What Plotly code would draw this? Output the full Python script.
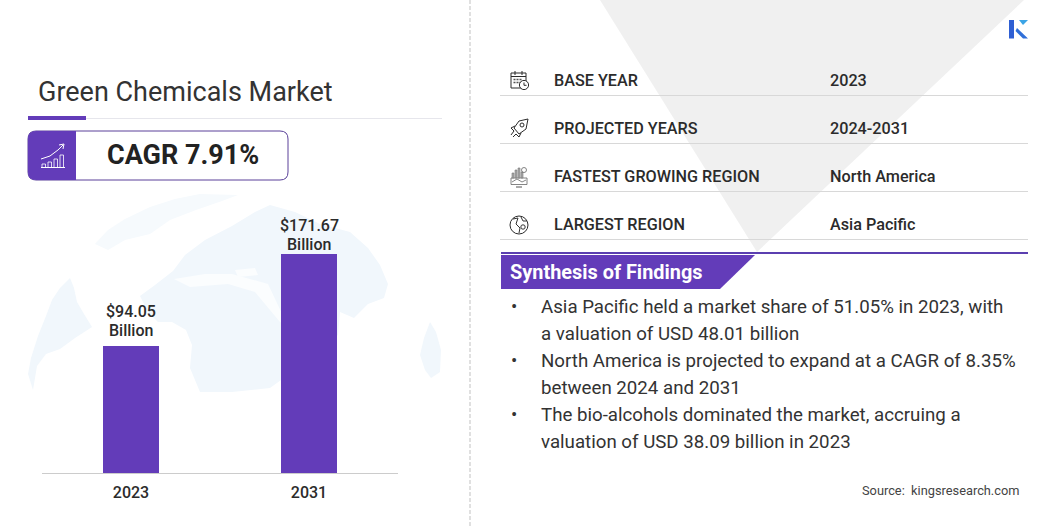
import plotly.graph_objs as go

W, H = 1056, 528
FONT = "Roboto"
PURPLE = "#633cb9"
DARK = "#2b2b2b"

# Values
years = ["2023", "2031"]
market_values = [94.05, 171.67]
table_labels = ["BASE YEAR", "PROJECTED YEARS", "FASTEST GROWING REGION", "LARGEST REGION"]
table_values = ["2023", "2024-2031", "North America", "Asia Pacific"]
findings = [
    ["Asia Pacific held a market share of 51.05% in 2023, with", "a valuation of USD 48.01 billion"],
    ["North America is projected to expand at a CAGR of 8.35%", "between 2024 and 2031"],
    ["The bio-alcohols dominated the market, accruing a", "valuation of USD 38.09 billion in 2023"],
]

# The drawn bars do not start at zero, they hang off a slightly negative floor
axis_floor = -13.1


def px(x):
    return x / W


def py(y):
    return 1 - y / H


def path(points, close=True):
    d = "M " + " L ".join(f"{px(x):.5f},{py(y):.5f}" for x, y in points)
    return d + (" Z" if close else "")


def polygon(points, color):
    return dict(type="path", xref="paper", yref="paper", path=path(points), fillcolor=color,
                line=dict(width=0), layer="below")


def polyline(points, color=DARK, width=1):
    return dict(type="path", xref="paper", yref="paper", path=path(points, close=False),
                line=dict(color=color, width=width), layer="above")


def line(x0, y0, x1, y1, color, width=1, dash=None, layer="below"):
    return dict(type="line", xref="paper", yref="paper", x0=px(x0), y0=py(y0), x1=px(x1), y1=py(y1),
                line=dict(color=color, width=width, dash=dash), layer=layer)


def circle(cx, cy, r, color=DARK, width=1):
    return dict(type="circle", xref="paper", yref="paper", x0=px(cx - r), x1=px(cx + r),
                y0=py(cy + r), y1=py(cy - r), line=dict(color=color, width=width), layer="above")


def rect(x0, y0, x1, y1, color=DARK, width=1, fill=None):
    return dict(type="rect", xref="paper", yref="paper", x0=px(x0), x1=px(x1), y0=py(y1), y1=py(y0),
                line=dict(color=color, width=width), fillcolor=fill, layer="above")


def text(x, y, s, size, color=DARK, weight=400, anchor="left"):
    fig.add_annotation(xref="paper", yref="paper", x=px(x), y=py(y), text=s, showarrow=False,
                       xanchor=anchor, yanchor="middle", borderpad=0,
                       font=dict(family=FONT, size=size, color=color, weight=weight))


fig = go.Figure()

fig.add_trace(go.Bar(
    x=years,
    y=[v - axis_floor for v in market_values],
    base=axis_floor,
    width=0.31,
    marker=dict(color=PURPLE, line=dict(width=0)),
    hovertext=[f"${v} Billion" for v in market_values],
    hoverinfo="text",
    showlegend=False,
))

shapes = []

# Pale grey funnel behind the table
shapes.append(polygon([(600, 0), (1024, 0), (757, 252)], "#f0f0f0"))

# Faint globe behind the bars
LAND = "#f1f7fc"
LAND_FAINT = "#f6fafd"
shapes.append(polygon([(70, 278), (60, 288), (52, 300), (46, 316), (38, 336), (31, 358), (28, 374), (33, 390),
                       (37, 366), (46, 354), (60, 349), (75, 338), (92, 327), (84, 314), (77, 302),
                       (74, 288)], LAND))
shapes.append(polygon([(95, 244), (108, 230), (125, 219), (150, 207), (175, 199), (200, 194), (238, 195),
                       (222, 201), (196, 210), (170, 220), (150, 234), (125, 240), (108, 250)], LAND_FAINT))
shapes.append(polygon([(140, 296), (155, 285), (173, 271), (185, 255), (205, 240), (232, 226), (255, 212),
                       (270, 205), (295, 212), (320, 224), (350, 232), (368, 248), (380, 265), (388, 284),
                       (384, 298), (368, 304), (354, 318), (340, 312), (338, 335), (318, 352), (300, 372),
                       (288, 375), (270, 388), (232, 392), (200, 392), (190, 368), (192, 345), (186, 330),
                       (172, 322), (158, 322), (148, 312)], LAND))
shapes.append(polygon([(430, 322), (424, 338), (420, 355), (425, 370), (431, 378), (440, 372), (441, 350),
                       (436, 332)], LAND))
shapes.append(polygon([(174, 279), (205, 274), (232, 274), (268, 284), (285, 320), (300, 335), (280, 322),
                       (255, 292), (228, 284), (190, 287)], "#fbfdfe"))
shapes.append(polygon([(235, 270), (255, 268), (258, 275), (238, 277)], "#fbfdfe"))

# Title rule and the CAGR badge
shapes.append(line(86, 118.5, 442, 118.5, "#e6e6ec"))
shapes.append(rect(28, 116, 86, 120, color=PURPLE, width=0, fill=PURPLE))
rad = 8
shapes.append(dict(type="path", xref="paper", yref="paper", layer="below",
                   path=(f"M {px(28 + rad)},{py(131)} L {px(288 - rad)},{py(131)} "
                         f"Q {px(288)},{py(131)} {px(288)},{py(131 + rad)} L {px(288)},{py(180 - rad)} "
                         f"Q {px(288)},{py(180)} {px(288 - rad)},{py(180)} L {px(28 + rad)},{py(180)} "
                         f"Q {px(28)},{py(180)} {px(28)},{py(180 - rad)} L {px(28)},{py(131 + rad)} "
                         f"Q {px(28)},{py(131)} {px(28 + rad)},{py(131)} Z"),
                   fillcolor="white", line=dict(color="#5a4199", width=1)))
shapes.append(dict(type="path", xref="paper", yref="paper", layer="above",
                   path=(f"M {px(28 + rad)},{py(131)} L {px(76)},{py(131)} L {px(76)},{py(180)} "
                         f"L {px(28 + rad)},{py(180)} Q {px(28)},{py(180)} {px(28)},{py(180 - rad)} "
                         f"L {px(28)},{py(131 + rad)} Q {px(28)},{py(131)} {px(28 + rad)},{py(131)} Z"),
                   fillcolor=PURPLE, line=dict(width=0)))

# Little growth chart inside the badge
for bx, top in [(42, 164), (48, 162), (54, 159), (60, 155)]:
    shapes.append(rect(bx, top, bx + 3.5, 167.5, color="white", width=0.8))
shapes.append(line(41, 167.5, 65, 167.5, "white", layer="above"))
shapes.append(polyline([(41, 159), (50, 156), (58, 150), (63, 145)], "white"))
shapes.append(polyline([(59, 145), (64, 144), (63, 149)], "white"))

# Dashed divider between the two halves
shapes.append(line(470, 0, 470, 528, "#e0e0e0", width=2, dash="4px,2px"))

# Table rules
for rule_y in [95.5, 143.5, 191.5, 239.5]:
    shapes.append(line(500, rule_y, 1028, rule_y, "#d8d8d8"))

# Calendar icon
shapes.append(rect(511, 73, 526, 88))
shapes.append(line(511, 76.5, 526, 76.5, DARK, layer="above"))
shapes.append(line(515, 71, 515, 75, DARK, layer="above"))
shapes.append(line(522, 71, 522, 75, DARK, layer="above"))
for gy in [79.5, 82.5]:
    shapes.append(line(513.5, gy, 522, gy, "#555555", width=1.5, dash="2px,1px", layer="above"))
shapes.append(dict(circle(524, 85, 4.6), fillcolor="white"))
shapes.append(polyline([(524, 82.5), (524, 85.3), (526.5, 85.3)]))

# Rocket icon
shapes.append(polyline([(528, 119), (519, 121), (514, 128), (519, 134), (526, 129), (528, 119)]))
shapes.append(circle(522, 125, 2))
shapes.append(polyline([(515, 126), (511, 128), (514, 131)]))
shapes.append(polyline([(521, 133), (519, 137), (516, 134)]))
shapes.append(polyline([(514, 131), (511, 135)]))
shapes.append(polyline([(516, 134), (513, 137)]))

# Monitor icon for the growing region
shapes.append(rect(511, 178, 527, 184.5, color="#666666", width=0.8))
for bx, top in [(512, 173), (515, 170), (518, 168), (521, 172)]:
    shapes.append(rect(bx, top, bx + 2, 178, color="#777777", width=0.6, fill="#aaaaaa"))
shapes.append(polyline([(512, 182), (517, 179), (522, 182), (526, 180)], "#666666", width=0.8))
shapes.append(circle(524, 170, 2.5, color="#666666", width=0.8))
shapes.append(polyline([(516, 187), (522, 187)], "#555555"))

# Globe icon
shapes.append(circle(519, 225, 9))
shapes.append(polyline([(513, 219), (518, 218), (516, 224), (520, 228), (519, 233)], "#333333"))
shapes.append(polyline([(521, 217), (523, 221), (527, 221)], "#333333"))
shapes.append(circle(523, 227, 2.2, color="#333333"))

# Logo
shapes.append(dict(polygon([(1009, 20), (1014, 20), (1014, 38.5), (1009, 38.5)], "#2f5fd3"), layer="above"))
shapes.append(dict(polygon([(1017, 28), (1028, 38.5), (1023, 38.5), (1015.5, 31)], "#2f6fd8"), layer="above"))
shapes.append(dict(polygon([(1019, 20), (1028, 20), (1023, 25)], "#3ba4e6"), layer="above"))

# Findings banner
shapes.append(line(501, 253, 1028, 253, "#5b3fb0", width=2))
shapes.append(polygon([(501, 255), (755, 255), (720, 289), (501, 289)], PURPLE))

fig.update_layout(
    width=W,
    height=H,
    margin=dict(l=0, r=0, t=0, b=0),
    paper_bgcolor="white",
    plot_bgcolor="rgba(0,0,0,0)",
    bargap=0,
    xaxis=dict(
        type="category",
        domain=[px(42), px(398)],
        range=[-0.5, 1.5],
        showgrid=False,
        showline=True,
        linecolor="#cccccc",
        linewidth=1,
        ticks="",
        ticklabelstandoff=5,
        tickfont=dict(family=FONT, size=16, color=DARK, weight=500),
    ),
    yaxis=dict(
        domain=[py(473), py(200)],
        range=[axis_floor, 217.3],
        visible=False,
    ),
    shapes=shapes,
)

# Left side texts
text(37, 91.5, "Green Chemicals Market", 27, color="#333333")
text(183, 155.5, "CAGR 7.91%", 27, color="#222222", weight=700, anchor="center")

# Two line labels sitting on top of each bar, the shorter bar has a bigger gap
for i, value in enumerate(market_values):
    lift = 6 if i == 0 else 0
    fig.add_annotation(x=i, y=value, xref="x", yref="y", text="Billion", showarrow=False,
                       yanchor="bottom", yshift=lift - 1, borderpad=0,
                       font=dict(family=FONT, size=16, color=DARK, weight=500))
    fig.add_annotation(x=i, y=value, xref="x", yref="y", text=f"${value:.2f}", showarrow=False,
                       yanchor="bottom", yshift=lift + 18, borderpad=0,
                       font=dict(family=FONT, size=16, color=DARK, weight=500))

# Table
for i, (label, val) in enumerate(zip(table_labels, table_values)):
    row_y = 80.5 + 48 * i
    text(553, row_y, label, 16.2, weight=500)
    text(829, row_y, val, 16.2, weight=500)

text(509, 272, "Synthesis of Findings", 19.9, color="white", weight=700)

# Bullets
line_y = 307
for item in findings:
    text(514, line_y, "•", 18.7, color="#333333", anchor="center")
    for row in item:
        text(540, line_y, row, 18.7, color="#333333")
        line_y += 27

text(1020, 490, "Source:  kingsresearch.com", 12.8, color="#444444", anchor="right")

fig.write_html("out.html", config={"displayModeBar": False}, post_script="document.body.style.margin='0';")
